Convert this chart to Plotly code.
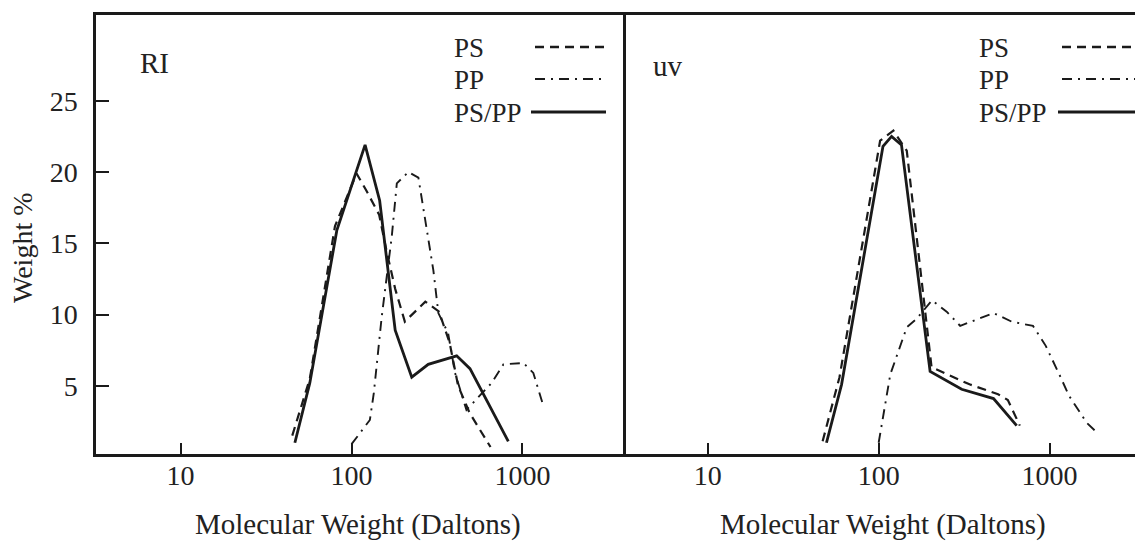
import plotly.graph_objects as go

# ---------------- data ----------------
# Left panel: RI detector
ri_ps_mw = [45, 57, 80, 107, 122, 145, 160, 180, 205, 270, 325, 375, 420, 490, 650]
ri_ps_wt = [1.5, 5.5, 16.2, 19.9, 18.7, 17.0, 14.5, 11.8, 9.5, 10.9, 10.2, 8.0, 5.0, 3.1, 0.7]

ri_pp_mw = [100, 128, 135, 150, 172, 184, 215, 246, 301, 322, 367, 403, 470, 660, 773, 1012, 1157, 1324]
ri_pp_wt = [0.9, 2.6, 4.5, 9.8, 15.5, 19.2, 20.0, 19.6, 13.1, 10.1, 8.7, 5.9, 3.3, 5.2, 6.5, 6.6, 5.9, 3.6]

ri_blend_mw = [46.6, 57, 82, 120, 146, 180, 225, 281, 412, 493, 826]
ri_blend_wt = [1.0, 5.2, 15.9, 21.9, 18.0, 8.9, 5.6, 6.5, 7.1, 6.2, 1.1]

# Right panel: UV detector
uv_ps_mw = [47, 59, 102, 112, 122, 146, 204, 340, 500, 570, 670]
uv_ps_wt = [1.1, 5.6, 22.2, 22.6, 22.9, 21.5, 6.3, 5.1, 4.4, 4.0, 2.2]

uv_pp_mw = [100, 117, 133, 146, 167, 205, 250, 300, 470, 600, 800, 950, 1150, 1300, 1650, 1900]
uv_pp_wt = [1.0, 5.8, 7.7, 9.1, 9.7, 11.0, 10.2, 9.2, 10.1, 9.5, 9.2, 7.8, 5.7, 4.3, 2.4, 1.7]

uv_blend_mw = [49.5, 60.7, 106, 119, 136, 200, 306, 470, 642]
uv_blend_wt = [1.0, 5.1, 21.8, 22.5, 21.9, 6.0, 4.75, 4.1, 2.2]

x_tickvals = [10, 100, 1000]
x_ticktext = ["10", "100", "1000"]
y_tickvals = [5, 10, 15, 20, 25]
y_ticktext = ["5", "10", "15", "20", "25"]

series_names = ["PS", "PP", "PS/PP"]
panel_labels = ["RI", "uv"]
x_title = "Molecular Weight (Daltons)"
y_title = "Weight %"

# ---------------- styling ----------------
W, H = 1135, 545
INK = "#1a1a1a"
TXT = "#222222"
FONT = "Liberation Serif"
PS_DASH = "9px,6px"
PP_DASH = "10px,6px,2px,6px"
styles = {
    "PS": dict(color=INK, width=2.2, dash=PS_DASH),
    "PP": dict(color=INK, width=1.9, dash=PP_DASH),
    "PS/PP": dict(color=INK, width=2.8, dash="solid"),
}

def px(x):
    return x / W

def py(y):
    return 1 - y / H

x_left, x_mid = 96, 623
y_top, y_bot = 15, 454

fig = go.Figure()

panels = [
    ("x", "y", {"PS": (ri_ps_mw, ri_ps_wt), "PP": (ri_pp_mw, ri_pp_wt), "PS/PP": (ri_blend_mw, ri_blend_wt)}),
    ("x2", "y2", {"PS": (uv_ps_mw, uv_ps_wt), "PP": (uv_pp_mw, uv_pp_wt), "PS/PP": (uv_blend_mw, uv_blend_wt)}),
]
for xa, ya, data in panels:
    for name in series_names:
        xs, ys = data[name]
        fig.add_trace(go.Scatter(x=xs, y=ys, mode="lines", name=name, xaxis=xa, yaxis=ya,
                                 line=styles[name], showlegend=False, hoverinfo="skip"))

yrange = [(457 - y_bot) / 14.25, (457 - y_top) / 14.25]

common_x = dict(type="log", tickvals=x_tickvals, ticktext=x_ticktext, ticks="inside", ticklen=11,
                tickwidth=2, tickcolor=INK, showline=True, linewidth=2.5, linecolor=INK,
                showgrid=False, zeroline=False, mirror=True, automargin=False,
                tickfont=dict(family=FONT, size=28, color=TXT), ticklabelstandoff=-5)

fig.update_layout(
    width=W, height=H,
    margin=dict(l=0, r=0, t=0, b=0, pad=0, autoexpand=False),
    paper_bgcolor="white", plot_bgcolor="white",
    xaxis=dict(domain=[px(x_left), px(x_mid)], range=[0.505, 3.588], anchor="y", **common_x),
    xaxis2=dict(domain=[px(x_mid), 1.0], range=[0.504, 3.5], anchor="y2", **common_x),
    yaxis=dict(domain=[py(y_bot), py(y_top)], range=yrange, tickvals=y_tickvals, ticktext=y_ticktext,
               ticks="inside", ticklen=13, tickwidth=2, tickcolor=INK, showline=True, linewidth=2.5,
               linecolor=INK, mirror=True, showgrid=False, zeroline=False, anchor="x", automargin=False,
               tickfont=dict(family=FONT, size=28, color=TXT), ticklabelstandoff=10),
    yaxis2=dict(domain=[py(y_bot), py(y_top)], range=yrange, showticklabels=False, ticks="",
                showline=False, showgrid=False, zeroline=False, anchor="x2", automargin=False),
    showlegend=False,
)

annotations = []
# axis titles
for cx in (358, 883):
    annotations.append(dict(x=px(cx), y=py(524), xref="paper", yref="paper", text=x_title,
                            showarrow=False, xanchor="center", yanchor="middle",
                            font=dict(family=FONT, size=29, color=TXT)))
annotations.append(dict(x=px(22), y=py(248), xref="paper", yref="paper", text=y_title, textangle=-90,
                        showarrow=False, xanchor="center", yanchor="middle",
                        font=dict(family=FONT, size=28, color=TXT)))
# panel labels
annotations.append(dict(x=px(138), y=py(63), xref="paper", yref="paper", text=panel_labels[0],
                        showarrow=False, xanchor="left", yanchor="middle",
                        font=dict(family=FONT, size=29, color=TXT)))
annotations.append(dict(x=px(651), y=py(66), xref="paper", yref="paper", text=panel_labels[1],
                        showarrow=False, xanchor="left", yanchor="middle",
                        font=dict(family=FONT, size=29, color=TXT)))

# legends (text left, line sample right) for both panels
shapes = []
legend_rows = [48, 80, 113]
for tx, lx0, lx1 in ((452, 535, 606), (977, 1062, 1135)):
    for name, ry in zip(series_names, legend_rows):
        annotations.append(dict(x=px(tx), y=py(ry), xref="paper", yref="paper", text=name,
                                showarrow=False, xanchor="left", yanchor="middle",
                                font=dict(family=FONT, size=27, color=TXT)))
        x0 = lx0 if name != "PS/PP" else lx0 - 4
        shapes.append(dict(type="line", xref="paper", yref="paper", x0=px(x0), x1=px(lx1),
                           y0=py(ry - 1), y1=py(ry - 1),
                           line=dict(color=INK, width=styles[name]["width"] + 0.3,
                                     dash=styles[name]["dash"])))

fig.update_layout(annotations=annotations, shapes=shapes)

fig.write_html("out.html", config={"displayModeBar": False},
               post_script="document.body.style.margin='0px';document.body.style.overflow='hidden';")
